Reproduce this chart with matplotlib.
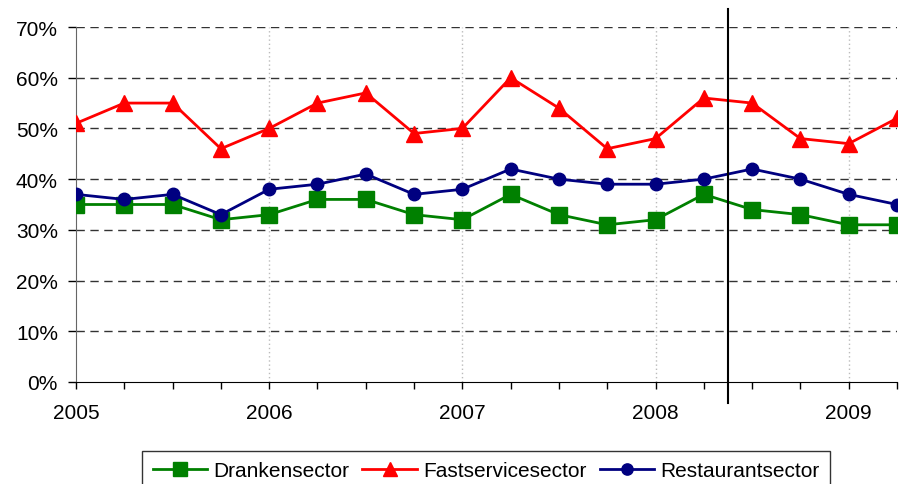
import matplotlib
matplotlib.use("Agg")
import matplotlib.pyplot as plt
from matplotlib.lines import Line2D
from matplotlib.ticker import PercentFormatter

plt.rcParams['font.family'] = ['Liberation Sans', 'DejaVu Sans']

quarters = list(range(18))
year_labels = ['2005', '2006', '2007', '2008', '2009']
year_positions = [0, 4, 8, 12, 16]

drank = [35, 35, 35, 32, 33, 36, 36, 33, 32, 37, 33, 31, 32, 37, 34, 33, 31, 31]
fast = [51, 55, 55, 46, 50, 55, 57, 49, 50, 60, 54, 46, 48, 56, 55, 48, 47, 52]
resto = [37, 36, 37, 33, 38, 39, 41, 37, 38, 42, 40, 39, 39, 40, 42, 40, 37, 35]
series_names = ['Drankensector', 'Fastservicesector', 'Restaurantsector']
marker_line = 13.5

fig = plt.figure(figsize=(9.02, 4.85), dpi=100)
ax = fig.add_axes([76/902, 1-383/485, (897-76)/902, (383-28)/485])

ax.set_xlim(0, 17)
ax.set_ylim(0, 70)

# grid
for yv in range(10, 80, 10):
    ax.axhline(yv, color='#333333', lw=1.0, dashes=(6, 4), zorder=1)
for xv in year_positions[1:]:
    ax.axvline(xv, color='#bbbbbb', lw=1.0, ls=(0, (1, 2)), zorder=1)

ax.plot(quarters, drank, color='#008000', lw=2, marker='s', ms=11,
        label=series_names[0], zorder=3)
ax.plot(quarters, fast, color='#ff0000', lw=2, marker='^', ms=11,
        label=series_names[1], zorder=3)
ax.plot(quarters, resto, color='#000080', lw=2, marker='o', ms=9,
        label=series_names[2], zorder=4)

# vertical separator line
vl = Line2D([marker_line, marker_line], [(383-404)/355, (383-10)/355],
            transform=ax.get_xaxis_transform(), color='black', lw=1.5,
            clip_on=False, zorder=5)
ax.add_line(vl)

ax.set_xticks(quarters)
ax.set_xticklabels([year_labels[year_positions.index(q)] if q in year_positions else ''
                    for q in quarters])
ax.set_yticks(range(0, 80, 10))
ax.yaxis.set_major_formatter(PercentFormatter(decimals=0))

ax.tick_params(axis='x', direction='out', length=5, width=1, pad=10, labelsize=15,
               colors='black')
ax.tick_params(axis='y', direction='out', length=6, width=1, pad=7, labelsize=15,
               colors='black')

for s in ['top', 'right']:
    ax.spines[s].set_visible(False)
ax.spines['left'].set_color('#666666')
ax.spines['bottom'].set_color('black')

leg = fig.legend(loc='upper center', bbox_to_anchor=(486/902, 1-452/485), ncol=3,
                 fontsize=15, frameon=True, fancybox=False, edgecolor='black',
                 handlelength=2.6, handletextpad=0.3, columnspacing=0.65,
                 markerscale=0.9, borderpad=0.5, borderaxespad=0)
leg.get_frame().set_linewidth(1.0)

fig.savefig('out.png', dpi=100)
